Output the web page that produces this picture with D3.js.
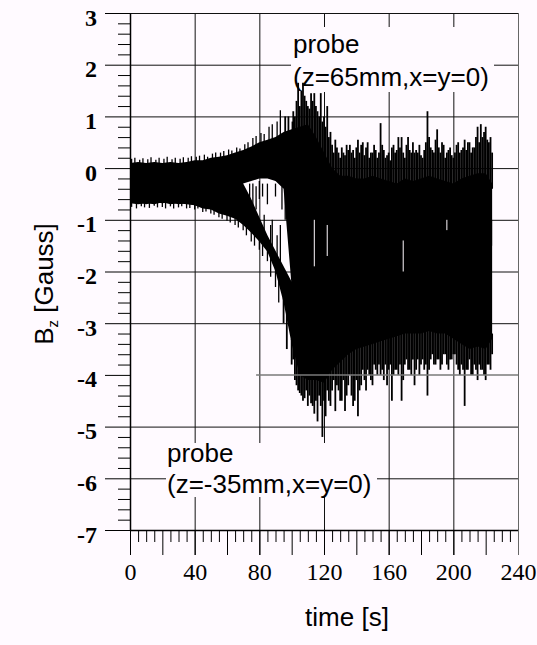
<!DOCTYPE html>
<html>
<head>
<meta charset="utf-8">
<script src="https://cdn.jsdelivr.net/npm/d3@7"></script>
<style>
  html, body { margin: 0; padding: 0; background: #fffaff; }
  svg { display: block; }
</style>
</head>
<body>
<svg id="chart" width="537" height="645"></svg>
<script>
// ---- Axis tick values and labels ----
const yMajor = [-7, -6, -5, -4, -3, -2, -1, 0, 1, 2, 3];
const yTickLabels = ["-7", "-6", "-5", "-4", "-3", "-2", "-1", "0", "1", "2", "3"];
const xMajor = [0, 40, 80, 120, 160, 200, 240];
const xTickLabels = ["0", "40", "80", "120", "160", "200", "240"];

// ---- Sampled envelope of the two probe signals (time in s, Bz in Gauss) ----
const time = [0, 5, 10, 15, 20, 25, 30, 35, 40, 45,
              50, 55, 60, 65, 70, 75, 80, 85, 90, 95,
              100, 105, 110, 115, 120, 125, 130, 135, 140, 145,
              150, 155, 160, 165, 170, 175, 180, 185, 190, 195,
              200, 205, 210, 215, 220, 224];

// probe z = 65 mm: dense band upper and lower edges
const probeATop = [0.1, 0.12, 0.1, 0.12, 0.1, 0.12, 0.1, 0.12, 0.15, 0.15,
                   0.2, 0.22, 0.25, 0.3, 0.35, 0.42, 0.5, 0.55, 0.6, 0.7,
                   0.75, 0.8, 0.85, 0.6, 0.3, 0.0, -0.15, -0.15, -0.2, -0.2,
                   -0.15, -0.2, -0.25, -0.3, -0.2, -0.25, -0.2, -0.15, -0.2, -0.25,
                   -0.3, -0.2, -0.15, -0.1, -0.1, -0.3];
const probeABottom = [-0.68, -0.66, -0.7, -0.66, -0.68, -0.66, -0.7, -0.68, -0.72, -0.75,
                      -0.78, -0.8, -0.75, -0.5, -0.3, -0.25, -0.2, -0.2, -0.25, -0.4,
                      -2.3, -2.3, -1.5, -1.5, -1.5, -1.5, -1.5, -1.5, -1.5, -1.5,
                      -1.5, -1.5, -1.5, -1.5, -1.5, -1.5, -1.5, -1.5, -1.5, -1.5,
                      -1.5, -1.5, -1.5, -1.5, -1.5, -1.5];

// probe z = -35 mm: dense band upper and lower edges
const probeBTop = [0, 0, 0, 0, 0, 0, 0, 0, 0, 0,
                   0, 0, -0.1, -0.3, -0.3, -0.6, -0.95, -1.3, -1.6, -1.9,
                   -2.2, -1.4, -1.0, -1.0, -1.0, -1.0, -1.0, -1.0, -1.0, -1.0,
                   -1.0, -1.0, -1.0, -1.0, -1.0, -1.0, -1.0, -1.0, -1.0, -1.0,
                   -1.0, -1.0, -1.0, -1.0, -1.0, -1.0];
const probeBBottom = [-0.68, -0.7, -0.68, -0.7, -0.66, -0.7, -0.68, -0.7, -0.72, -0.78,
                      -0.8, -0.88, -0.92, -0.98, -1.1, -1.25, -1.42, -1.62, -2.0, -2.6,
                      -3.4, -4.0, -4.1, -4.1, -4.15, -3.9, -3.75, -3.6, -3.5, -3.45,
                      -3.4, -3.35, -3.3, -3.25, -3.2, -3.2, -3.2, -3.15, -3.2, -3.2,
                      -3.3, -3.4, -3.5, -3.45, -3.5, -3.3];

// Upward spikes above the dense band: time and tip value
const spikeUpT = [1, 3, 6, 8, 11, 13, 16, 18, 21, 23, 26, 28, 31, 33, 36, 38, 41, 43, 46, 48,
                  51, 53, 56, 58, 61, 63, 66, 68, 71, 73, 76, 78, 81, 83, 86, 88, 91, 93, 96, 98,
                  100.5, 101, 102, 103, 104, 105, 106, 107, 108, 109, 110, 111, 112, 113, 114, 115, 116, 117, 118, 119,
                  120, 121, 122, 123, 124, 125, 126, 127, 128, 129, 130, 131, 132, 133, 134, 135, 136, 137, 138, 139,
                  140, 141, 142, 143, 144, 145, 146, 147, 148, 149, 150, 151, 152, 153, 154, 155, 156, 157, 158, 159,
                  160, 161, 162, 163, 164, 165, 166, 167, 168, 169, 170, 171, 172, 173, 174, 175, 176, 177, 178, 179,
                  180, 181, 182, 183, 184, 185, 186, 187, 188, 189, 190, 191, 192, 193, 194, 195, 196, 197, 198, 199,
                  200, 201, 202, 203, 204, 205, 206, 207, 208, 209, 210, 211, 212, 213, 214, 215, 216, 217, 218, 219,
                  220, 221, 222, 223, 224];
const spikeUpV = [0.18, 0.2, 0.16, 0.19, 0.17, 0.21, 0.16, 0.2, 0.18, 0.22, 0.17, 0.2, 0.18, 0.21, 0.2, 0.23, 0.22, 0.24, 0.26, 0.22,
                  0.28, 0.3, 0.3, 0.33, 0.36, 0.34, 0.4, 0.38, 0.46, 0.5, 0.58, 0.62, 0.68, 0.66, 0.8, 0.85, 0.9, 1.12, 1.0, 1.0,
                  0.9, 1.1, 1.0, 1.3, 1.65, 1.2, 1.5, 1.65, 1.4, 1.3, 1.2, 1.15, 1.45, 1.3, 1.45, 1.2, 1.1, 1.0, 1.45, 0.9,
                  1.0, 0.8, 1.2, 0.6, 0.7, 0.45, 0.3, 0.55, 0.4, 0.3, 0.2, 0.4, 0.3, 0.25, 0.45, 0.35, 0.45, 0.3, 0.35, 0.2,
                  0.4, 0.55, 0.3, 0.45, 0.5, 0.25, 0.4, 0.5, 0.2, 0.3, 0.3, 0.45, 0.35, 0.2, 0.3, 0.87, 0.45, 0.35, 0.2, 0.25,
                  0.3, 0.15, 0.4, 0.45, 0.3, 0.35, 0.6, 0.4, 0.6, 0.3, 0.2, 0.45, 0.6, 0.35, 0.3, 0.5, 0.3, 0.35, 0.3, 0.45,
                  0.25, 0.2, 0.35, 0.5, 1.1, 0.6, 0.4, 0.35, 0.3, 0.55, 0.75, 0.4, 0.3, 0.5, 0.45, 0.2, 0.3, 0.35, 0.4, 0.25,
                  0.2, 0.3, 0.45, 0.5, 0.3, 0.35, 0.4, 0.55, 0.35, 0.5, 0.5, 0.3, 0.4, 0.4, 0.6, 0.8, 0.5, 0.85, 0.6, 0.7,
                  0.8, 0.55, 0.5, 0.6, 0.3];

// Downward spikes below the dense band: time and tip value
const spikeDownT = [1, 4, 7, 9, 12, 15, 17, 20, 22, 25, 27, 30, 32, 35, 37, 40, 42, 45, 47, 50,
                    52, 55, 57, 60, 62, 65, 67, 70, 72, 75, 77, 80, 82, 85, 87, 90, 92, 95, 97, 100,
                    101, 102, 103, 104, 105, 106, 107, 108, 109, 110, 111, 112, 113, 114, 115, 116, 117, 118, 119,
                    120, 121, 122, 123, 124, 125, 126, 127, 128, 129, 130, 131, 132, 133, 134, 135, 136, 137, 138, 139,
                    140, 141, 142, 143, 144, 145, 146, 147, 148, 149, 150, 151, 152, 153, 154, 155, 156, 157, 158, 159,
                    160, 161, 162, 163, 164, 165, 166, 167, 168, 169, 170, 171, 172, 173, 174, 175, 176, 177, 178, 179,
                    180, 181, 182, 183, 184, 185, 186, 187, 188, 189, 190, 191, 192, 193, 194, 195, 196, 197, 198, 199,
                    200, 201, 202, 203, 204, 205, 206, 207, 208, 209, 210, 211, 212, 213, 214, 215, 216, 217, 218, 219,
                    220, 221, 222, 223, 224];
const spikeDownV = [-0.75, -0.78, -0.74, -0.76, -0.77, -0.73, -0.76, -0.75, -0.78, -0.74, -0.78, -0.76, -0.74, -0.78, -0.77, -0.8, -0.78, -0.85, -0.84, -0.88,
                    -0.9, -0.95, -0.98, -1.02, -1.05, -1.1, -1.15, -1.2, -1.3, -1.42, -1.5, -1.58, -1.7, -1.8, -2.1, -2.3, -2.6, -3.0, -3.5, -3.8,
                    -3.7, -4.1, -4.2, -4.3, -4.35, -4.4, -4.5, -4.45, -4.3, -4.6, -4.4, -4.55, -4.6, -4.75, -4.5, -4.9, -4.4, -4.6, -5.2,
                    -4.5, -4.8, -4.3, -4.5, -4.6, -4.3, -4.1, -4.7, -4.2, -4.3, -4.5, -4.5, -4.1, -4.7, -4.4, -4.2, -4.0, -4.4, -4.6, -4.5,
                    -4.1, -4.8, -4.3, -4.2, -3.9, -4.1, -4.3, -3.9, -4.0, -4.1, -4.2, -3.8, -3.9, -4.0, -3.8, -4.0, -3.9, -4.1, -3.8, -4.2,
                    -3.9, -3.8, -4.5, -4.0, -3.9, -3.9, -4.0, -3.8, -4.5, -4.1, -3.8, -3.7, -3.9, -3.9, -4.0, -3.7, -4.2, -3.9, -3.7, -4.0,
                    -3.8, -3.7, -3.9, -3.8, -4.4, -3.9, -3.7, -3.6, -3.8, -3.8, -3.7, -3.7, -3.9, -3.8, -3.6, -3.6, -3.8, -3.9, -3.7, -3.7,
                    -3.6, -3.6, -3.8, -3.9, -4.0, -3.8, -3.9, -4.6, -3.9, -3.9, -3.7, -4.0, -4.0, -3.8, -3.9, -4.1, -3.8, -3.9, -3.9, -4.0,
                    -4.1, -3.8, -3.8, -3.9, -3.6];

// Streaks crossing the gap between the two traces: time, from, to
const gapStreakT = [74, 76, 78, 80, 82, 83, 85, 87, 88, 90, 91, 93, 94, 96];
const gapStreakFrom = [-0.3, -0.3, -0.35, -0.25, -0.3, -0.9, -0.3, -1.1, -1.0, -0.3, -1.3, -1.1, -0.35, -0.4];
const gapStreakTo = [-0.7, -0.9, -0.8, -0.6, -0.55, -1.3, -0.7, -1.5, -1.6, -0.55, -1.8, -1.9, -0.8, -1.0];

// Light streaks inside the dense region: time, from, to
const lightStreakT = [114, 122, 169, 196];
const lightStreakFrom = [-1.0, -1.1, -1.4, -1.0];
const lightStreakTo = [-1.9, -1.7, -2.0, -1.2];

// ---- Layout ----
const bg = "#fffaff";
const svg = d3.select("#chart");
svg.append("rect").attr("width", 537).attr("height", 645).attr("fill", bg);

const x = d3.scaleLinear().domain([0, 240]).range([130, 518]);
const y = d3.scaleLinear().domain([-7, 3]).range([530, 13]);

const serif = "'Liberation Serif','Times New Roman',Times,serif";
const sans = "'Liberation Sans',Arial,Helvetica,sans-serif";

// ---- Grid (and top/right frame) ----
const yGrid = yMajor.filter(v => v > -7 && v !== -4);
const xGrid = xMajor.filter(v => v > 0);
svg.append("g")
  .attr("transform", `translate(${x(0)},0)`)
  .call(d3.axisLeft(y).tickValues(yGrid).tickSize(-(x(240) - x(0))).tickFormat(""))
  .call(g => g.select(".domain").remove())
  .call(g => g.selectAll("line").attr("stroke", "#111").attr("stroke-width", 1));
svg.append("g")
  .attr("transform", `translate(0,${y(-7)})`)
  .call(d3.axisBottom(x).tickValues(xGrid).tickSize(-(y(-7) - y(3))).tickFormat(""))
  .call(g => g.select(".domain").remove())
  .call(g => g.selectAll("line")
    .attr("stroke", d => d === 240 ? "#666" : "#111").attr("stroke-width", 1));

// ---- Blank panels behind the probe annotations ----
svg.append("rect").attr("x", 291).attr("y", 27).attr("width", 203).attr("height", 65).attr("fill", bg);
svg.append("rect").attr("x", 166).attr("y", 443).attr("width", 211).attr("height", 54).attr("fill", bg);

// ---- Signal envelopes ----
const dataG = svg.append("g");
function band(top, bottom) {
  const rows = time.map((t, i) => ({ t, hi: top[i], lo: bottom[i] }));
  return d3.area().x(d => x(d.t)).y0(d => y(d.lo)).y1(d => y(d.hi))(rows);
}
dataG.append("path").attr("d", band(probeATop, probeABottom)).attr("fill", "#000");
dataG.append("path").attr("d", band(probeBTop, probeBBottom)).attr("fill", "#000");

// envelope lookups used as the root of each spike
const topAt = d3.scaleLinear().domain(time).range(probeATop);
const bottomAt = d3.scaleLinear().domain(time).range(probeBBottom);

const spikeWidth = t => (t < 95 ? 1.3 : 1.8);

dataG.append("g").selectAll("line")
  .data(spikeUpT.map((t, i) => ({ t, v: spikeUpV[i] })))
  .join("line")
  .attr("x1", d => x(d.t)).attr("x2", d => x(d.t))
  .attr("y1", d => y(d.v)).attr("y2", d => y(topAt(d.t) - 0.1))
  .attr("stroke", "#000").attr("stroke-width", d => spikeWidth(d.t));

dataG.append("g").selectAll("line")
  .data(spikeDownT.map((t, i) => ({ t, v: spikeDownV[i] })))
  .join("line")
  .attr("x1", d => x(d.t)).attr("x2", d => x(d.t))
  .attr("y1", d => y(d.v)).attr("y2", d => y(bottomAt(d.t) + 0.1))
  .attr("stroke", "#000").attr("stroke-width", d => spikeWidth(d.t));

dataG.append("g").selectAll("line")
  .data(gapStreakT.map((t, i) => ({ t, a: gapStreakFrom[i], b: gapStreakTo[i] })))
  .join("line")
  .attr("x1", d => x(d.t)).attr("x2", d => x(d.t))
  .attr("y1", d => y(d.a)).attr("y2", d => y(d.b))
  .attr("stroke", "#000").attr("stroke-width", 1.3);

dataG.append("g").selectAll("line")
  .data(lightStreakT.map((t, i) => ({ t, a: lightStreakFrom[i], b: lightStreakTo[i] })))
  .join("line")
  .attr("x1", d => x(d.t)).attr("x2", d => x(d.t))
  .attr("y1", d => y(d.a)).attr("y2", d => y(d.b))
  .attr("stroke", bg).attr("stroke-width", 1);

// the -4 gridline sits over the signal in grey
svg.append("line")
  .attr("x1", x(78)).attr("x2", x(240)).attr("y1", y(-4)).attr("y2", y(-4))
  .attr("stroke", "#7a7a7a").attr("stroke-width", 1.5);

// ---- Axes ----
const yMinor = d3.range(-70, 31, 2).map(v => v / 10).filter(v => !Number.isInteger(v));
const xMinor = d3.range(0, 241, 5).filter(v => v % 20 !== 0);
const xMid = d3.range(0, 241, 20);

svg.append("g")
  .attr("transform", `translate(${x(0)},0)`)
  .call(d3.axisLeft(y).tickValues(yMinor).tickSize(12).tickFormat(""))
  .call(g => g.select(".domain").remove())
  .call(g => g.selectAll("line").attr("stroke", "#000"));

svg.append("g")
  .attr("transform", `translate(${x(0)},0)`)
  .call(d3.axisLeft(y).tickValues(yMajor).tickSize(25).tickSizeOuter(0).tickPadding(8)
    .tickFormat((d, i) => yTickLabels[i]))
  .call(g => g.select(".domain").attr("stroke", "#000").attr("stroke-width", 1.5))
  .call(g => g.selectAll("line").attr("stroke", "#000"))
  .call(g => g.selectAll("text")
    .attr("dy", "0.5em")
    .style("font-family", serif).style("font-size", "24px").style("font-weight", "bold")
    .attr("fill", "#000"));

svg.append("g")
  .attr("transform", `translate(0,${y(-7)})`)
  .call(d3.axisBottom(x).tickValues(xMinor).tickSize(12).tickFormat(""))
  .call(g => g.select(".domain").remove())
  .call(g => g.selectAll("line").attr("stroke", "#000"));

svg.append("g")
  .attr("transform", `translate(0,${y(-7)})`)
  .call(d3.axisBottom(x).tickValues(xMid).tickSize(25).tickFormat(""))
  .call(g => g.select(".domain").remove())
  .call(g => g.selectAll("line").attr("stroke", "#000"));

svg.append("g")
  .attr("transform", `translate(0,${y(-7)})`)
  .call(d3.axisBottom(x).tickValues(xMajor).tickSize(25).tickSizeOuter(0).tickPadding(8)
    .tickFormat((d, i) => xTickLabels[i]))
  .call(g => g.select(".domain").attr("stroke", "#000").attr("stroke-width", 1.5))
  .call(g => g.selectAll("line").attr("stroke", d => d === 240 ? "#666" : "#000"))
  .call(g => g.selectAll("text")
    .style("font-family", serif).style("font-size", "24px")
    .attr("fill", "#000"));

// ---- Axis titles ----
const yTitle = svg.append("text")
  .attr("transform", "translate(53,284) rotate(-90)")
  .attr("text-anchor", "middle")
  .style("font-family", sans).style("font-size", "26px").attr("fill", "#000");
yTitle.append("tspan").text("B");
yTitle.append("tspan").attr("dy", 5).style("font-size", "15px").text("z");
yTitle.append("tspan").attr("dy", -5).text(" [Gauss]");

svg.append("text")
  .attr("x", 347).attr("y", 626)
  .attr("text-anchor", "middle")
  .style("font-family", sans).style("font-size", "26px").attr("fill", "#000")
  .text("time [s]");

// ---- Probe annotations ----
const note = (tx, ty, s) => svg.append("text")
  .attr("x", tx).attr("y", ty)
  .style("font-family", sans).style("font-size", "26px").attr("fill", "#000")
  .text(s);
note(293, 53, "probe");
note(293, 86, "(z=65mm,x=y=0)");
note(167, 462, "probe");
note(167, 493, "(z=-35mm,x=y=0)");
</script>
</body>
</html>
